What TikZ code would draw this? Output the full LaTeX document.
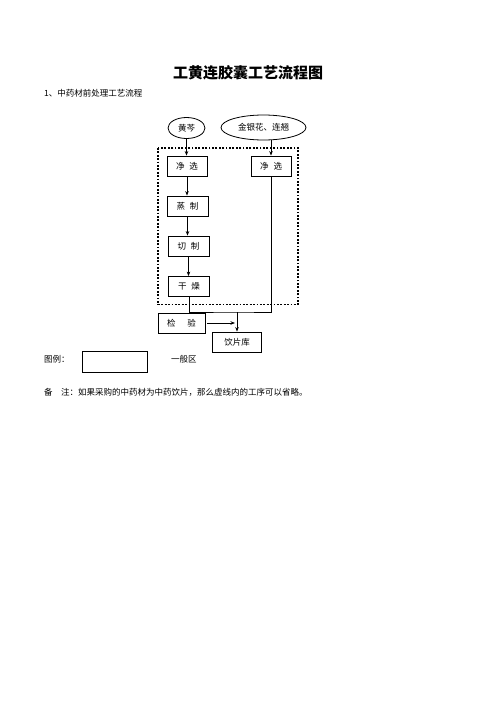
\documentclass[tikz,border=0pt]{standalone}
\usepackage{fontspec}
\setmainfont{Noto Sans CJK SC}
\usetikzlibrary{arrows.meta,shapes.geometric}
\tikzset{
  stepbox/.style={draw, line width=0.8pt, rectangle, inner sep=0pt, minimum height=20pt, font=\fontsize{8.5}{10}\selectfont},
  oval/.style={draw, line width=0.8pt, ellipse, inner sep=0pt, font=\fontsize{8.5}{10}\selectfont},
  arr/.style={line width=0.8pt, -{Stealth[length=4.5pt,width=3.5pt]}},
  link/.style={line width=0.8pt},
  plain/.style={inner sep=0pt, font=\fontsize{8.5}{10}\selectfont},
}
\begin{document}
\begin{tikzpicture}[x=1pt,y=-1pt]
\useasboundingbox[fill=white] (0,0) rectangle (496,702);
% title
\node[inner sep=0pt, font=\fontsize{15}{18}\selectfont\bfseries] (title) at (248,73) {工黄连胶囊工艺流程图};
\node[plain, anchor=west] (sub) at (44,93) {1、中药材前处理工艺流程};
% dotted area
\draw[line width=1.8pt, dash pattern=on 1.8pt off 1.6pt] (158,148) rectangle (298,304.5);
% nodes
\node[oval, minimum width=37pt, minimum height=21pt] (hq) at (186.5,128) {黄芩};
\node[oval, minimum width=85pt, minimum height=25pt] (jyh) at (263.5,127.5) {金银花、连翘};
\node[stepbox, minimum width=40pt] (jx1) at (187,166) {净\hspace{5pt}选};
\node[stepbox, minimum width=40pt] (jx2) at (271,166) {净\hspace{5pt}选};
\node[stepbox, minimum width=41pt] (zz) at (187.5,206) {蒸\hspace{5pt}制};
\node[stepbox, minimum width=41pt] (qz) at (188.5,246) {切\hspace{5pt}制};
\node[stepbox, minimum width=41pt] (gz) at (189,286.5) {干\hspace{5pt}燥};
\node[stepbox, minimum width=47pt] (jy) at (181.5,323) {检\hspace{12pt}验};
\node[stepbox, minimum width=49pt] (yp) at (237,342) {饮片库};
\coordinate (m) at (237,312);
\coordinate (ja) at (235,323);
% connectors
\draw[arr] (hq.south) -- (hq.south |- jx1.north);
\draw[arr] (jyh.south -| jx2.north) -- (jx2.north);
\draw[arr] (jx1.south) -- (jx1.south |- zz.north);
\draw[arr] (zz.south) -- (zz.south |- qz.north);
\draw[arr] (qz.south) -- (qz.south |- gz.north);
\draw[link] (gz.south) |- (m) -| (jx2.south);
\draw[arr] (m) -- (yp.north);
\draw[arr] ([xshift=2pt]jy.east) -- (ja);
% legend
\node[plain, anchor=west] (lgt) at (44,359) {图例：};
\node[draw, line width=0.8pt, minimum width=65pt, minimum height=21pt, inner sep=0pt] (lg) at (114.5,361.5) {};
\node[plain, anchor=west] (lgn) at (171,359) {一般区};
\node[plain, anchor=west] (note) at (44,392) {备\hspace{8.5pt}注：如果采购的中药材为中药饮片，那么虚线内的工序可以省略。};
\end{tikzpicture}
\end{document}
